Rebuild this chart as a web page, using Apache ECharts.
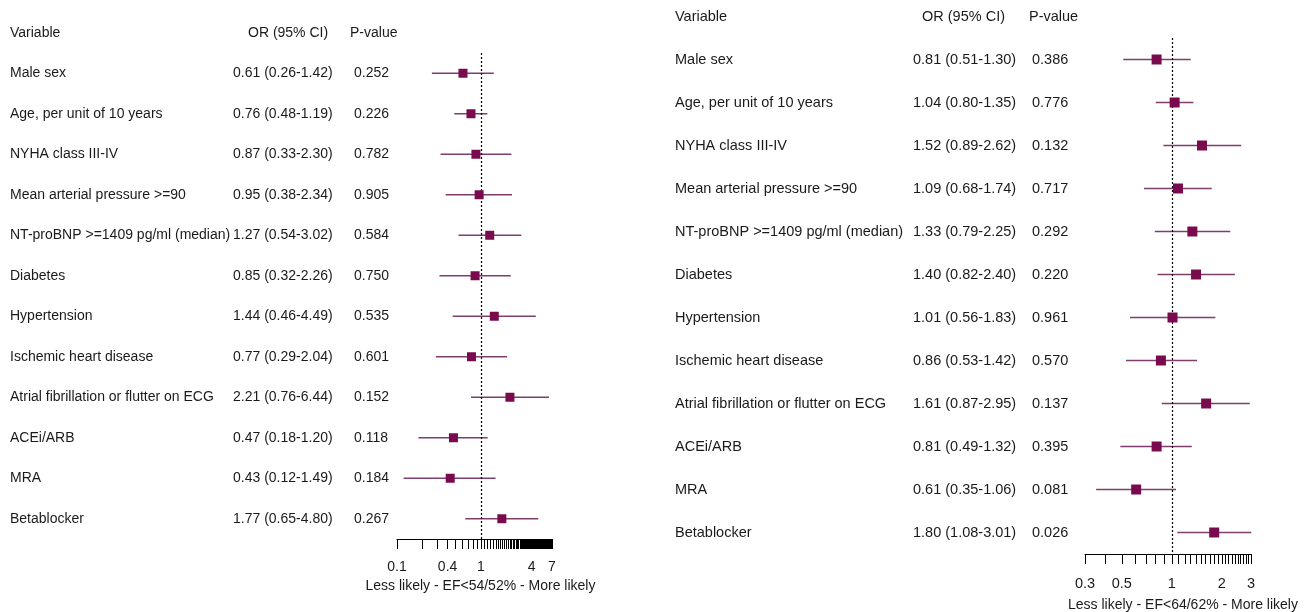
<!DOCTYPE html>
<html>
<head>
<meta charset="utf-8">
<script src="https://cdn.jsdelivr.net/npm/echarts@6/dist/echarts.min.js"></script>
<style>html,body{margin:0;padding:0;background:#fff}#c{width:1304px;height:612px}</style>
</head>
<body>
<div id="c"></div>
<script>
var variables = ['Male sex','Age, per unit of 10 years','NYHA class III-IV','Mean arterial pressure >=90','NT-proBNP >=1409 pg/ml (median)','Diabetes','Hypertension','Ischemic heart disease','Atrial fibrillation or flutter on ECG','ACEi/ARB','MRA','Betablocker'];

var leftOR = [0.61,0.76,0.87,0.95,1.27,0.85,1.44,0.77,2.21,0.47,0.43,1.77];
var leftLo = [0.26,0.48,0.33,0.38,0.54,0.32,0.46,0.29,0.76,0.18,0.12,0.65];
var leftHi = [1.42,1.19,2.30,2.34,3.02,2.26,4.49,2.04,6.44,1.20,1.49,4.80];
var leftP  = ['0.252','0.226','0.782','0.905','0.584','0.750','0.535','0.601','0.152','0.118','0.184','0.267'];

var rightOR = [0.81,1.04,1.52,1.09,1.33,1.40,1.01,0.86,1.61,0.81,0.61,1.80];
var rightLo = [0.51,0.80,0.89,0.68,0.79,0.82,0.56,0.53,0.87,0.49,0.35,1.08];
var rightHi = [1.30,1.35,2.62,1.74,2.25,2.40,1.83,1.42,2.95,1.32,1.06,3.01];
var rightP  = ['0.386','0.776','0.132','0.717','0.292','0.220','0.961','0.570','0.137','0.395','0.081','0.026'];

var leftTickLabels = [0.1,0.4,1,4,7];
var rightTickLabels = [0.3,0.5,1,2,3];
var leftAxisName = 'Less likely - EF<54/52% - More likely';
var rightAxisName = 'Less likely - EF<64/62% - More likely';

function tenths(a, b){ var out=[]; for(var k=Math.round(a*10);k<=Math.round(b*10);k++){ out.push(k/10); } return out; }
var leftTicks = tenths(0.1, 7);
var rightTicks = tenths(0.3, 3);

function orText(o,l,h){ return o.map(function(v,i){ return v.toFixed(2)+' ('+l[i].toFixed(2)+'-'+h[i].toFixed(2)+')'; }); }

var TXT = '#1a1a1a';
var FONT = 'Liberation Sans, Arial, sans-serif';
var MARK = '#7a0a4e';
var LINE = '#7e3f6e';

var panels = [
  {left:397, width:155, top:53, height:486, min:0.1, max:7, ticks:leftTicks, labels:leftTickLabels, name:leftAxisName, or:leftOR, lo:leftLo, hi:leftHi, p:leftP, xVar:10, xOr:233, xP:354, hOr:248, hP:350, hy:34, labMargin:21, nameGap:38, namePad:[0,0,0,12], fs:14, nfs:14, ms:9},
  {left:1085, width:166, top:38, height:516, min:0.3, max:3, ticks:rightTicks, labels:rightTickLabels, name:rightAxisName, or:rightOR, lo:rightLo, hi:rightHi, p:rightP, xVar:675, xOr:913, xP:1032, hOr:922, hP:1029, hy:17, labMargin:22, nameGap:44, namePad:[0,0,0,30], fs:14.5, nfs:14, ms:10}
];

var grid=[], xAxis=[], yAxis=[], series=[], title=[];
panels.forEach(function(P, gi){
  grid.push({left:P.left, width:P.width, top:P.top, height:P.height, containLabel:false, outerBoundsMode:'none'});
  xAxis.push({
    type:'log', logBase:10, gridIndex:gi, min:P.min, max:P.max, position:'bottom',
    splitLine:{show:false},
    axisLine:{show:true, lineStyle:{color:'#000', width:1}},
    axisTick:{show:true, length:10, customValues:P.ticks, lineStyle:{color:'#000', width:1}},
    minorTick:{show:false},
    axisLabel:{show:true, customValues:P.labels, margin:P.labMargin, color:TXT, fontSize:P.fs, fontFamily:FONT, formatter:function(v){return String(v);}},
    name:P.name, nameLocation:'middle', nameGap:P.nameGap,
    nameTextStyle:{color:TXT, fontSize:P.nfs, fontFamily:FONT, padding:P.namePad}
  });
  var cols = [
    {data:variables, x:P.xVar},
    {data:orText(P.or,P.lo,P.hi), x:P.xOr},
    {data:P.p, x:P.xP}
  ];
  var yBase = yAxis.length;
  cols.forEach(function(c){
    yAxis.push({
      type:'category', gridIndex:gi, position:'left', inverse:true, data:c.data,
      axisLine:{show:false}, axisTick:{show:false}, splitLine:{show:false},
      axisLabel:{show:true, align:'left', margin:P.left - c.x, color:TXT, fontSize:P.fs, fontFamily:FONT, interval:0}
    });
  });
  var ciData = P.or.map(function(v,i){ return [P.lo[i], i, P.hi[i]]; });
  series.push({
    type:'custom', xAxisIndex:gi, yAxisIndex:yBase, data:ciData, encode:{x:[0,2], y:1}, clip:false, silent:true,
    renderItem:function(params, api){
      var a = api.coord([api.value(0), api.value(1)]);
      var b = api.coord([api.value(2), api.value(1)]);
      return {type:'line', shape:{x1:a[0], y1:a[1], x2:b[0], y2:b[1]}, style:{stroke:LINE, lineWidth:1.5}};
    }
  });
  series.push({
    type:'scatter', xAxisIndex:gi, yAxisIndex:yBase, symbol:'rect', symbolSize:P.ms, silent:true, z:5,
    itemStyle:{color:MARK, opacity:1},
    data:P.or.map(function(v,i){ return [v, i]; }),
    markLine:{silent:true, symbol:['none','none'], label:{show:false},
      lineStyle:{type:[2,2], color:'#000', width:1.2},
      data:[{xAxis:1}]}
  });
  var ts = {color:TXT, fontSize:P.fs, fontWeight:'normal', fontFamily:FONT};
  title.push({text:'Variable', left:P.xVar, top:P.hy-8, padding:0, textStyle:ts});
  title.push({text:'OR (95% CI)', left:P.hOr, top:P.hy-8, padding:0, textStyle:ts});
  title.push({text:'P-value', left:P.hP, top:P.hy-8, padding:0, textStyle:ts});
});

var chart = echarts.init(document.getElementById('c'), null, {renderer:'canvas'});
chart.setOption({animation:false, backgroundColor:'#fff', title:title, grid:grid, xAxis:xAxis, yAxis:yAxis, series:series});
</script>
</body>
</html>
